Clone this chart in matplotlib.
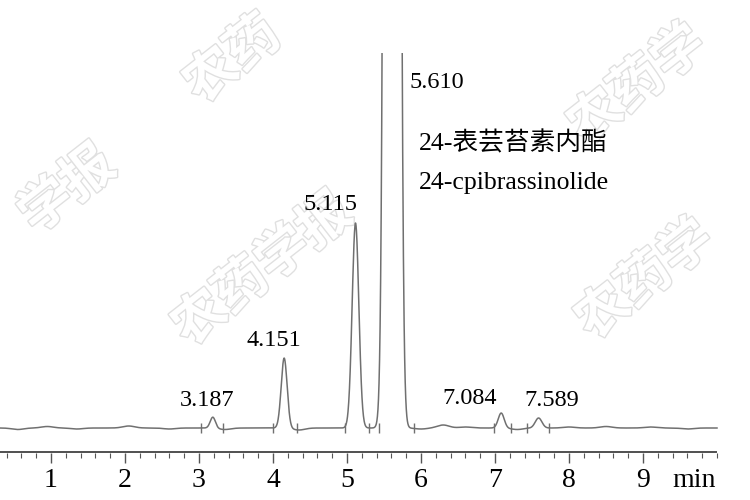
import numpy as np
import matplotlib.pyplot as plt
import matplotlib.patheffects as pe
from matplotlib.ticker import FixedLocator

# peaks (retention time in min, height, width)
peak_times = [3.187, 4.151, 5.115, 5.610, 7.084, 7.589]
peak_heights = [11, 70, 205, 8000, 15, 10]
peak_sigmas = [0.035, 0.040, 0.045, 0.055, 0.040, 0.045]
peak_labels = ["3.187", "4.151", "5.115", "5.610", "7.084", "7.589"]

# small baseline wiggles (time, offset)
bump_times = [0.55, 0.95, 1.35, 2.05, 2.6, 3.35, 4.35, 6.0, 6.3, 6.6, 7.3, 8.0, 8.5, 9.1, 9.6]
bump_heights = [-1.5, 1.5, -1, 2, -1, -1.5, -2, -1, 3, 1, -1.5, 1, 1.5, 1, -1]

# integration start / end marks
mark_times = [3.03, 3.33, 4.0, 4.32, 4.97, 5.3, 5.43, 5.9, 6.98, 7.22, 7.43, 7.73]

t = np.linspace(0.311, 10.0, 4000)
signal = np.zeros_like(t)
for rt, h, s in zip(peak_times, peak_heights, peak_sigmas):
    signal += h * np.exp(-0.5 * ((t - rt) / s) ** 2)
for bt, bh in zip(bump_times, bump_heights):
    signal += bh * np.exp(-0.5 * ((t - bt) / 0.08) ** 2)

fig = plt.figure(figsize=(7.5, 5), dpi=100)
ax = fig.add_axes([0, 0.094, 1, 0.8])
ax.patch.set_visible(False)

ax.plot(t, signal, color="#707070", lw=1.1)
ax.vlines(mark_times, -5, 5, color="#707070", lw=1)

ax.set_xlim(0.311, 10.446)
ax.set_ylim(-25, 375)

for sp in ["top", "left", "right", "bottom"]:
    ax.spines[sp].set_visible(False)
# x axis line
ax.hlines(-24.4, 0.311, 10.0, color="#505050", lw=1.4, clip_on=False, zorder=5)
ax.yaxis.set_visible(False)

ax.set_xticks(range(1, 10))
minor = [m / 5 for m in range(2, 51) if m % 5 != 0]
ax.xaxis.set_minor_locator(FixedLocator(minor + [10.0]))
ax.tick_params(axis="x", which="major", length=7, width=1, color="#555555",
               pad=4, labelsize=20)
ax.tick_params(axis="x", which="minor", length=3.5, width=0.8, color="#555555")
for lab in ax.get_xticklabels():
    lab.set_family("Liberation Serif")
ax.annotate("min", xy=(9.69, 0), xycoords=ax.get_xaxis_transform(),
            xytext=(0, -11), textcoords="offset points", ha="center", va="top",
            fontsize=20, family="Liberation Serif")

# peak labels
label_x = [3.11, 4.01, 4.78, 5.85, 6.66, 7.77]
label_y = [28, 88, 224, 345, 29, 28]
for i, lab in enumerate(peak_labels):
    ha = "left" if i == 3 else "center"
    ax.text(label_x[i], label_y[i], lab, ha=ha, va="center", fontsize=17.5,
            family="Liberation Serif")

ax.text(5.97, 285, "24-表芸苔素内酯", ha="left", va="center", fontsize=18.5,
        family=["Liberation Serif", "Noto Sans CJK SC"])
ax.text(5.97, 245, "24-cpibrassinolide", ha="left", va="center", fontsize=18.5,
        family="Liberation Serif")

# watermark
wm = [("农药", 0.31, 0.88), ("农药学", 0.85, 0.83), ("学报", 0.09, 0.62),
      ("农药学报", 0.35, 0.46), ("农药学", 0.86, 0.44)]
for s, x, y in wm:
    fig.text(x, y, s, rotation=38, ha="center", va="center", fontsize=38,
             fontweight="bold", family="Noto Sans CJK SC", color="white",
             zorder=-1,
             path_effects=[pe.withStroke(linewidth=2.0, foreground="#e0e0e0")])

fig.savefig("out.png")
